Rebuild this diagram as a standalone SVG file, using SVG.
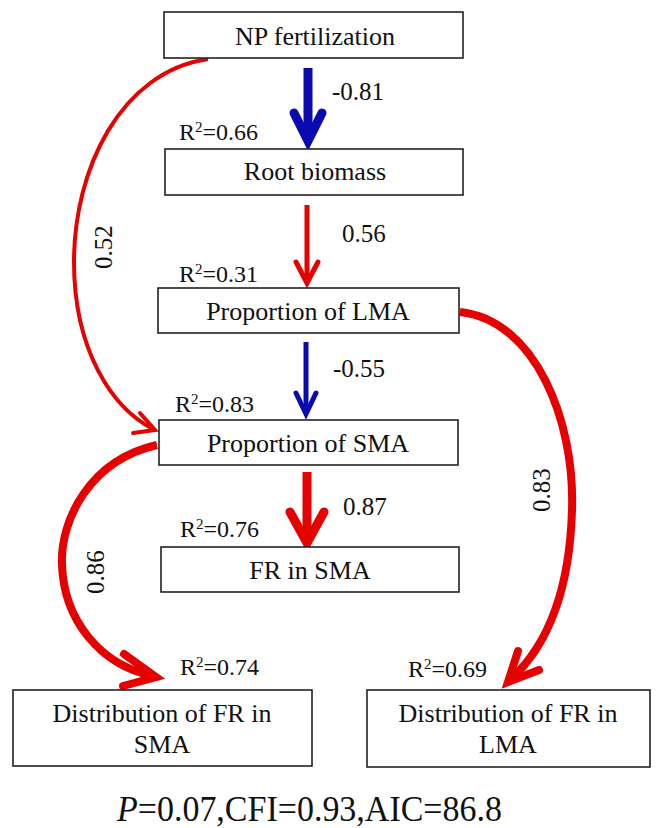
<svg xmlns="http://www.w3.org/2000/svg" width="662" height="828" viewBox="0 0 662 828">
<style>
.box{fill:#fff;stroke:#222;stroke-width:1.6}
.t{font-family:"Liberation Serif","Times New Roman",serif;fill:#111}
.lbl{font-size:26px;text-anchor:middle}
.val{font-size:25px}
.r2{font-size:24px}
.sup{font-size:15px}
.red{fill:none;stroke:#e60000;stroke-linejoin:miter;stroke-linecap:butt}
.blue{fill:none;stroke:#0a0ab0;stroke-linejoin:miter;stroke-linecap:butt}
.head{stroke-linecap:round}
</style>
<rect width="662" height="828" fill="#fff"/>
<g id="connectors">
  <g id="e-np-root">
    <path class="blue" stroke-width="9" d="M308,68 V139"/>
    <path class="blue head" stroke-width="9" d="M294,113 L308,141 L322,113"/>
    <text class="t val" x="332" y="100">-0.81</text>
  </g>
  <g id="e-root-lma">
    <path class="red" stroke-width="5" d="M307,205 V281"/>
    <path class="red head" stroke-width="5" d="M296,262 L307,283 L318,262"/>
    <text class="t val" x="342" y="242">0.56</text>
  </g>
  <g id="e-lma-sma">
    <path class="blue" stroke-width="5" d="M306,342 V412"/>
    <path class="blue head" stroke-width="5" d="M296,393 L306,414 L316,393"/>
    <text class="t val" x="333" y="377">-0.55</text>
  </g>
  <g id="e-sma-fr">
    <path class="red" stroke-width="9" d="M307,472 V541"/>
    <path class="red head" stroke-width="9" d="M290,512 L307,543 L324,512"/>
    <text class="t val" x="343" y="515">0.87</text>
  </g>
  <g id="e-np-sma">
    <path class="red" stroke-width="4" d="M208,59 C120,72 74,170 74,262 C74,350 112,408 153,429"/>
    <path class="red head" stroke-width="4" d="M140,413 L155,430 L133,433"/>
    <text class="t val" transform="translate(112,247) rotate(-90)" text-anchor="middle">0.52</text>
  </g>
  <g id="e-sma-dist">
    <path class="red" stroke-width="8" d="M157,445 C90,460 60,520 62,565 C64,620 100,665 153,676"/>
    <path class="red head" stroke-width="8" d="M124,654 L156,677 L123,686"/>
    <text class="t val" transform="translate(104,572) rotate(-90)" text-anchor="middle">0.86</text>
  </g>
  <g id="e-lma-dist">
    <path class="red" stroke-width="8" d="M460,312 C535,320 575,420 572,510 C570,580 552,642 510,680"/>
    <path class="red head" stroke-width="8" d="M518,651 L508,682 L539,670"/>
    <text class="t val" transform="translate(550,490) rotate(-90)" text-anchor="middle">0.83</text>
  </g>
</g>
<g id="n-np">
  <rect class="box" x="164" y="12" width="299" height="46"/>
  <text class="t lbl" x="315" y="45">NP fertilization</text>
</g>
<g id="n-root">
  <rect class="box" x="165" y="149" width="298" height="46"/>
  <text class="t lbl" x="315" y="180">Root biomass</text>
  <text class="t r2" x="179" y="140">R<tspan class="sup" dy="-8">2</tspan><tspan dy="8">=0.66</tspan></text>
</g>
<g id="n-lma">
  <rect class="box" x="158" y="288" width="301" height="45"/>
  <text class="t lbl" x="308" y="320">Proportion of LMA</text>
  <text class="t r2" x="179" y="282">R<tspan class="sup" dy="-8">2</tspan><tspan dy="8">=0.31</tspan></text>
</g>
<g id="n-sma">
  <rect class="box" x="159" y="420" width="299" height="45"/>
  <text class="t lbl" x="308" y="452">Proportion of SMA</text>
  <text class="t r2" x="175" y="412">R<tspan class="sup" dy="-8">2</tspan><tspan dy="8">=0.83</tspan></text>
</g>
<g id="n-fr">
  <rect class="box" x="161" y="547" width="298" height="45"/>
  <text class="t lbl" x="310" y="579">FR in SMA</text>
  <text class="t r2" x="180" y="537">R<tspan class="sup" dy="-8">2</tspan><tspan dy="8">=0.76</tspan></text>
</g>
<g id="n-dist-sma">
  <rect class="box" x="13" y="690" width="299" height="76"/>
  <text class="t lbl" x="162" y="722">Distribution of FR in</text>
  <text class="t lbl" x="162" y="753">SMA</text>
  <text class="t r2" x="180" y="675">R<tspan class="sup" dy="-8">2</tspan><tspan dy="8">=0.74</tspan></text>
</g>
<g id="n-dist-lma">
  <rect class="box" x="367" y="690" width="283" height="77"/>
  <text class="t lbl" x="508" y="722">Distribution of FR in</text>
  <text class="t lbl" x="508" y="753">LMA</text>
  <text class="t r2" x="408" y="677">R<tspan class="sup" dy="-8">2</tspan><tspan dy="8">=0.69</tspan></text>
</g>
<text class="t" x="117" y="821" font-size="36" textLength="385" lengthAdjust="spacingAndGlyphs"><tspan font-style="italic">P</tspan>=0.07,CFI=0.93,AIC=86.8</text>
</svg>
